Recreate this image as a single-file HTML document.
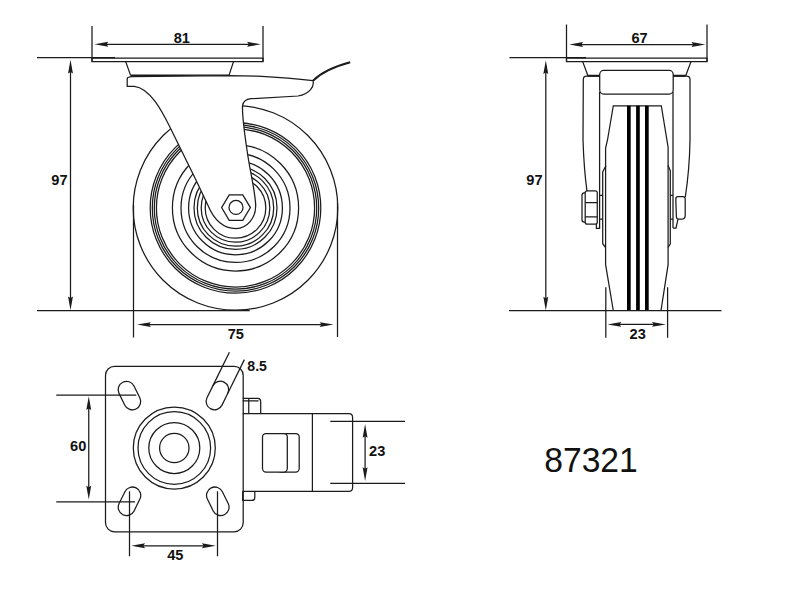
<!DOCTYPE html>
<html><head><meta charset="utf-8"><style>
html,body{margin:0;padding:0;background:#fff;}
svg{display:block;}
svg path, svg circle, svg rect{fill:none;stroke:#1b1b1b;stroke-width:1.25;}
svg .w{fill:#fff;}
svg .f{fill:#1b1b1b;stroke:none;}
svg .s{fill:#000;stroke:none;}
svg .k{stroke-width:2;}
svg .t{stroke-width:1.45;}
svg text{font-family:"Liberation Sans",sans-serif;fill:#111;}
</style></head><body>
<svg width="800" height="600" viewBox="0 0 800 600">
<rect x="0" y="0" width="800" height="600" style="fill:#fff;stroke:none"/>
<path d="M92,26 V61.6 M263,26 V61.6"/>
<path d="M100.5,44.3 H254.89999999999998"/>
<path class="f" d="M94.50,44.30 L108.30,41.85 L106.64,44.30 L108.30,46.75 Z"/>
<path class="f" d="M260.90,44.30 L247.10,46.75 L248.76,44.30 L247.10,41.85 Z"/>
<text x="181.8" y="42.6" font-size="14.6" font-weight="bold" text-anchor="middle">81</text>
<path class="t" d="M37,57.6 H115"/>
<path d="M92,58 H263 V61.6 H92 Z"/>
<path d="M125.7,61.6 L130.6,75.4 M229,75.4 L233.5,61.6"/>
<path class="k" d="M130.6,75.4 H229"/>
<path d="M70.5,65.8 V304.2"/>
<path class="f" d="M70.50,59.80 L72.95,73.60 L70.50,71.94 L68.05,73.60 Z"/>
<path class="f" d="M70.50,310.20 L68.05,296.40 L70.50,298.06 L72.95,296.40 Z"/>
<text x="59.4" y="184.6" font-size="14.6" font-weight="bold" text-anchor="middle">97</text>
<path d="M37,310.5 H249.7"/>
<path d="M133.5,205 V337.5 M337.5,203 V337"/>
<path d="M143.0,324.6 H327.5"/>
<path class="f" d="M137.00,324.60 L150.80,322.15 L149.14,324.60 L150.80,327.05 Z"/>
<path class="f" d="M333.50,324.60 L319.70,327.05 L321.36,324.60 L319.70,322.15 Z"/>
<text x="235.8" y="339" font-size="14.6" font-weight="bold" text-anchor="middle">75</text>
<circle cx="235.5" cy="207.9" r="102.3"/>
<circle cx="235.5" cy="207.9" r="85.3"/>
<circle cx="235.5" cy="207.9" r="83.2"/>
<circle cx="235.5" cy="207.9" r="81.2"/>
<circle cx="235.5" cy="207.9" r="79.1"/>
<circle cx="235.5" cy="207.9" r="63.1"/>
<circle cx="235.5" cy="207.9" r="54.5"/>
<circle cx="235.5" cy="207.9" r="46.9"/>
<circle cx="235.5" cy="207.9" r="41.5"/>
<circle cx="235.5" cy="207.9" r="38.2"/>
<circle cx="235.5" cy="207.9" r="34.3"/>
<circle cx="235.5" cy="207.9" r="30.3"/>
<path class="w" d="M131,76.6 L229,75.6 L257.6,76.1 Q290,78 313,80.7 C314.5,86 310,94 298,96 L251,98.7 Q243.2,99.6 242.5,106 C242.3,114 244,130 247,150 C250,172 255,190 255.7,205 C256,218 247,228.5 236,228.5 C224,228.5 214,220 207.8,205 L196.2,180.5 L170.5,128.3 C162,111 150,88 134.3,86.3 L127.2,86.3 L127.2,79 Q127.2,77 129.2,77 L131,76.6 Z"/>
<path d="M221.6,207.6 L229.2,194.85 L242.8,194.85 L250.4,207.6 L242.8,220.3 L229.2,220.3 Z"/>
<circle cx="236" cy="207.4" r="7"/>
<path class="k" d="M313,80.7 Q325,69 350.2,62.3"/>
<path d="M566.5,24.6 V61.6 M707,24.6 V61.6"/>
<path d="M575.3,44.5 H699.3"/>
<path class="f" d="M569.30,44.50 L583.10,42.05 L581.44,44.50 L583.10,46.95 Z"/>
<path class="f" d="M705.30,44.50 L691.50,46.95 L693.16,44.50 L691.50,42.05 Z"/>
<text x="639.5" y="43" font-size="14.6" font-weight="bold" text-anchor="middle">67</text>
<path class="t" d="M509.5,57.6 H586"/>
<path d="M566.5,58 H707 V61.6 H566.5 Z"/>
<path d="M582.7,61.6 L587.9,75.8 M685.7,75.8 L691,61.6"/>
<path class="k" d="M587.9,75.8 H599.7 M673.2,75.8 H685.7"/>
<path d="M545.8,66.3 V304.5"/>
<path class="f" d="M545.80,60.30 L548.25,74.10 L545.80,72.44 L543.35,74.10 Z"/>
<path class="f" d="M545.80,310.50 L543.35,296.70 L545.80,298.36 L548.25,296.70 Z"/>
<text x="534.4" y="184.75" font-size="14.6" font-weight="bold" text-anchor="middle">97</text>
<path d="M599.7,76.2 H586.5 Q583.3,76.2 583.3,79.5 L583,140 Q584,170 587,191"/>
<path d="M673.2,76.2 H686.7 Q690,76.2 690,79.5 L690,140 Q689.5,170 685.3,197"/>
<rect x="599.7" y="70.4" width="73.5" height="23.7" rx="4"/>
<path d="M599.6,92 V190 M673,92 V228"/>
<path d="M613.3,310.5 L605.6,264.7 V148 L607.5,140 L613.3,105.75 H661.3 L668.1,147.2 V264.7 L661,310.5"/>
<path d="M606,165.5 L602.7,172 V243.75 L605.6,247.5 M668,165.5 L670.3,170.75 V243.75 L668.1,247.5"/>
<rect class="s" x="627.0" y="105.75" width="3.7" height="204.9"/>
<rect class="s" x="636.1" y="105.75" width="3.7" height="204.9"/>
<rect class="s" x="645.0" y="105.75" width="3.7" height="204.9"/>
<rect x="585.2" y="190.8" width="12.05" height="33.4" rx="2"/>
<path d="M585.2,192.9 H584.2 Q582,192.9 582,195.2 V219.7 Q582,222 584.2,222 H585.2"/>
<path d="M585.2,202.5 H597.25 M585.2,216.8 H597.25"/>
<path d="M599.6,190 V228.3 H596.4 V224.2 M599.6,195.4 H602.7 M599.6,219.2 H602.7"/>
<path d="M677.8,196.7 H683 Q685.2,196.7 685.2,199 V215.5 Q685.2,219.2 681.5,219.2 H678.5 Q676.6,219.2 676.4,217 L675.8,199.2 Q675.8,196.7 677.8,196.7 Z"/>
<path d="M678,219.2 L676,228 H673 M670.3,195.4 H673 M670.3,219.2 H673"/>
<path d="M509,310.7 H721.5"/>
<path d="M605.8,287.2 V337.7 M667.6,287.2 V337.7"/>
<path d="M613.5,324.4 H659.8"/>
<path class="f" d="M607.50,324.40 L621.30,321.95 L619.64,324.40 L621.30,326.85 Z"/>
<path class="f" d="M665.80,324.40 L652.00,326.85 L653.66,324.40 L652.00,321.95 Z"/>
<text x="637.7" y="339.2" font-size="14.6" font-weight="bold" text-anchor="middle">23</text>
<rect x="105.5" y="366.3" width="137.7" height="165.45" rx="9"/>
<circle cx="174.3" cy="448" r="41"/>
<circle cx="174.3" cy="448" r="36.3"/>
<circle cx="174.3" cy="448" r="25.5"/>
<circle cx="174.3" cy="448" r="14.7"/>
<path d="M124.82,405.21 A8.35,8.35 0 0 0 139.81,397.84 L133.98,385.99 A8.35,8.35 0 0 0 118.99,393.36 Z"/>
<path d="M227.81,393.26 A8.35,8.35 0 0 0 212.82,385.89 L206.99,397.74 A8.35,8.35 0 0 0 221.98,405.11 Z"/>
<path d="M227.81,393.26 L244.37,359.6"/>
<path d="M212.82,385.89 L229.40,352.2"/>
<path d="M139.91,499.06 A8.35,8.35 0 0 0 124.92,491.69 L119.09,503.54 A8.35,8.35 0 0 0 134.08,510.91 Z"/>
<path d="M213.22,510.91 A8.35,8.35 0 0 0 228.21,503.54 L222.38,491.69 A8.35,8.35 0 0 0 207.39,499.06 Z"/>
<text x="247.3" y="370.6" font-size="14.6" font-weight="bold" textLength="19.6" lengthAdjust="spacingAndGlyphs">8.5</text>
<path d="M56.25,395 H136.25 M56.25,501.75 H135"/>
<path d="M88.75,402.25 V493.5"/>
<path class="f" d="M88.75,396.25 L91.20,410.05 L88.75,408.39 L86.30,410.05 Z"/>
<path class="f" d="M88.75,499.50 L86.30,485.70 L88.75,487.36 L91.20,485.70 Z"/>
<text x="78.2" y="451.2" font-size="14.6" font-weight="bold" text-anchor="middle">60</text>
<path d="M129.5,491.25 V556.25 M217.5,491.25 V556.25"/>
<path d="M137.25,545.75 H209.75"/>
<path class="f" d="M131.25,545.75 L145.05,543.30 L143.39,545.75 L145.05,548.20 Z"/>
<path class="f" d="M215.75,545.75 L201.95,548.20 L203.61,545.75 L201.95,543.30 Z"/>
<text x="175.25" y="559.5" font-size="14.6" font-weight="bold" text-anchor="middle">45</text>
<path d="M242.7,413.7 H348.8 Q352.6,413.7 352.6,417.5 V487.5 Q352.6,491.3 348.8,491.3 H242.7"/>
<path d="M312.4,413.7 V491.3"/>
<rect x="278" y="433.5" width="21.2" height="38.5" rx="3.5"/>
<rect class="w" x="262.5" y="433.5" width="24.8" height="38.5" rx="3.5"/>
<path d="M242.7,398.3 H257.9 Q260.7,398.3 260.7,401.5 V413.7 M248.75,398.3 V413.7 M242.7,400.9 H258.5"/>
<path d="M242.7,491.3 V500.4 H251.8 Q254.8,500.4 254.8,497.4 V491.3"/>
<path d="M330.3,421.3 H405 M330.3,483.3 H405"/>
<path d="M365.1,430 V475"/>
<path class="f" d="M365.10,424.00 L367.55,437.80 L365.10,436.14 L362.65,437.80 Z"/>
<path class="f" d="M365.10,481.00 L362.65,467.20 L365.10,468.86 L367.55,467.20 Z"/>
<text x="377.2" y="456.4" font-size="14.6" font-weight="bold" text-anchor="middle">23</text>
<text x="544.2" y="471.8" font-size="35.8" textLength="93.6" lengthAdjust="spacingAndGlyphs">87321</text>
</svg>
</body></html>
